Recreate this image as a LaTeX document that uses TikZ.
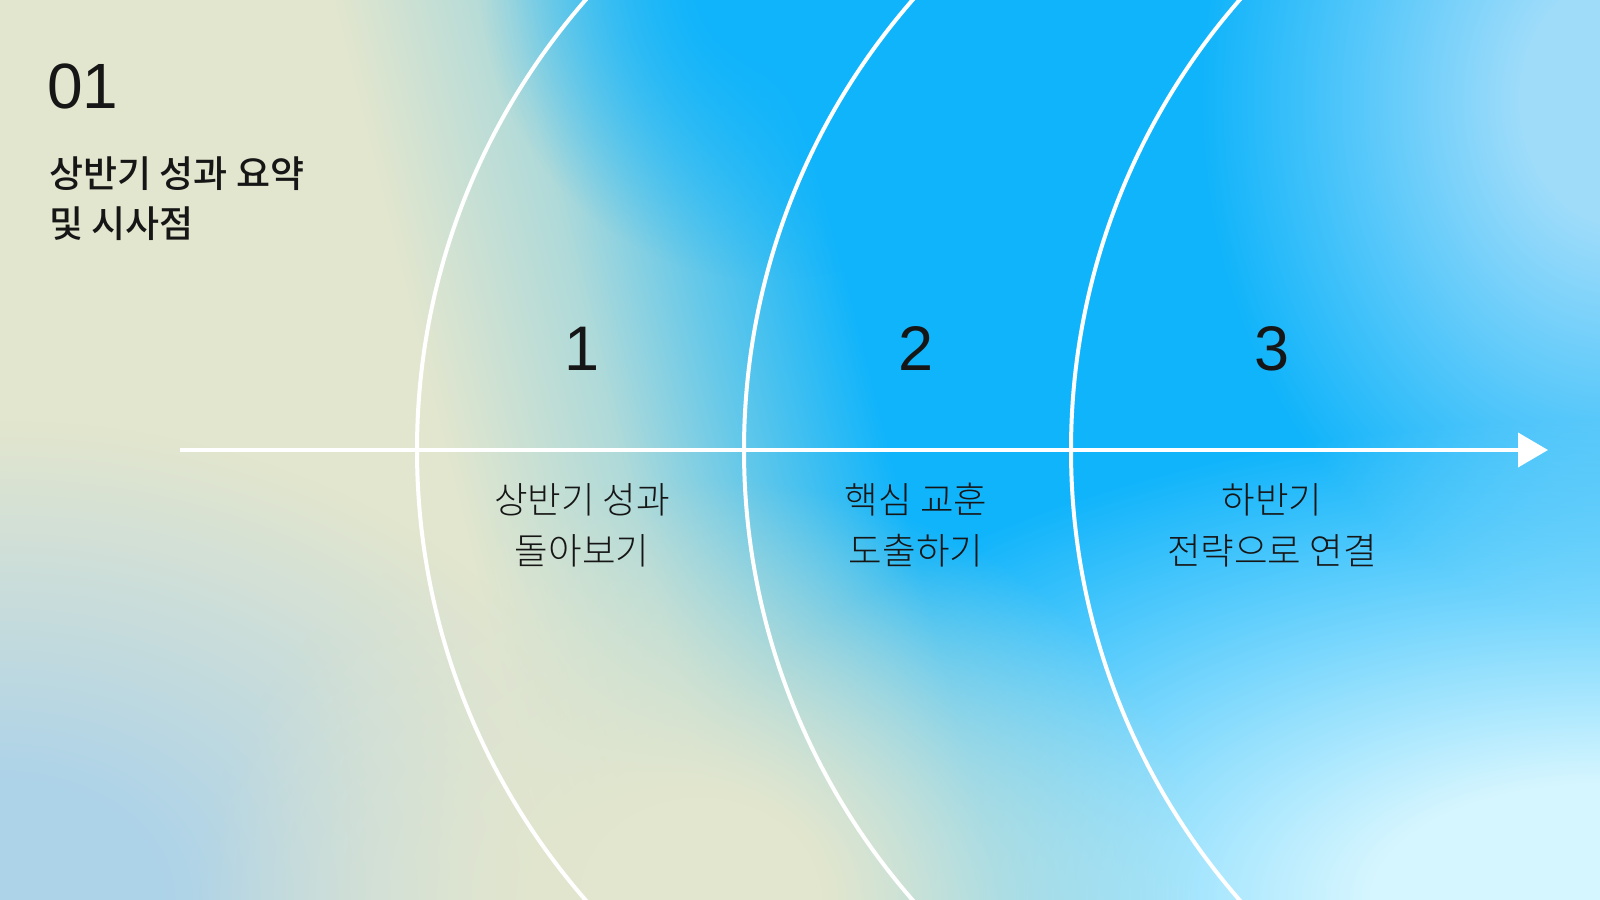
\documentclass[tikz,border=0pt]{standalone}
\usepackage{fontspec}
\setmainfont{Liberation Sans}
\IfFontExistsTF{Noto Sans CJK KR Light}
  {\newfontfamily\krfont{Noto Sans CJK KR Light}}
  {\newfontfamily\krfont{Noto Sans CJK KR}}
\IfFontExistsTF{Noto Sans CJK KR Medium}
  {\newfontfamily\krmid{Noto Sans CJK KR Medium}}
  {\newfontfamily\krmid{Noto Sans CJK KR}[FakeBold=1]}
\usepackage{tikz}
\usetikzlibrary{arrows.meta, positioning, fadings}
\definecolor{bg_cream}{RGB}{227,230,206}
\definecolor{bg_blue}{RGB}{16,180,251}
\definecolor{bg_mist}{RGB}{173,211,233}
\definecolor{bg_pale}{RGB}{214,246,255}
\definecolor{bg_sky}{RGB}{158,220,250}
\definecolor{ink}{RGB}{22,22,22}
\pgfdeclarehorizontalshading{bgsweep}{100bp}{color(0bp)=(bg_cream); color(38bp)=(bg_cream); color(44bp)=(bg_blue!25!bg_cream); color(48bp)=(bg_blue!60!bg_cream); color(53bp)=(bg_blue); color(100bp)=(bg_blue)}
\pgfdeclareradialshading{blobshade}{\pgfpointorigin}{color(0bp)=(white); color(6bp)=(white); color(25bp)=(black); color(50bp)=(black)}
\pgfdeclarefading{softblob}{\pgfuseshading{blobshade}}

\begin{document}
\begin{tikzpicture}[
        x=1pt, y=-1pt,
        arcline/.style={draw=white, line width=4pt},
        axisline/.style={white, line width=4pt, -{Triangle[length=30pt, width=34pt]}},
        num/.style={inner sep=0pt, font=\fontsize{63}{63}\selectfont, text=ink},
        lbl/.style={inner sep=0pt, align=center, text=ink,
                    font=\krfont\fontsize{36.5}{51}\selectfont},
        ttl/.style={inner sep=0pt, align=left, text=ink,
                    font=\krmid\fontsize{37}{50}\selectfont},
      ]
        \useasboundingbox (0,0) rectangle (1600,899);
        \clip (0,0) rectangle (1600,899);

        % background
        \shade[shading=bgsweep, shading angle=14] (0,0) rectangle (1600,899);
        \fill[bg_blue,  path fading=softblob] (770,-20) ellipse (290 and 300);
        \fill[bg_sky,   path fading=softblob] (1620,100) ellipse (420 and 520);
        \fill[bg_pale,  path fading=softblob] (1600,899) ellipse (950 and 480);
        \fill[bg_mist,  path fading=softblob] (0,899)   ellipse (650 and 480);
        \fill[bg_cream, path fading=softblob] (700,899) ellipse (500 and 420);

        \coordinate (c1) at (1102,450);
        \coordinate (c2) at (1429,450);
        \coordinate (c3) at (1756,450);
        \draw[arcline] (c1) circle (685);
        \draw[arcline] (c2) circle (685);
        \draw[arcline] (c3) circle (685);

        \coordinate (tl_start) at (180,450);
        \coordinate (tl_end)   at (1548,450);
        \draw[axisline] (tl_start) -- (tl_end);

        \node[num] (n1) at (582,349)  {1};
        \node[num] (n2) at (916,349)  {2};
        \node[num] (n3) at (1272,349) {3};

        \node[lbl, below=112pt of n1] (l1) {상반기 성과\\돌아보기};
        \node[lbl, below=112pt of n2] (l2) {핵심 교훈\\도출하기};
        \node[lbl, below=112pt of n3] (l3) {하반기\\전략으로 연결};

        \node[anchor=base west, inner sep=0pt, text=ink,
              font=\fontsize{64}{64}\selectfont] (sec) at (47,108) {01};
        \node[ttl, below=48pt of sec.south west, anchor=north west, xshift=2pt] (title)
          {상반기 성과 요약\\및 시사점};
      \end{tikzpicture}
\end{document}
